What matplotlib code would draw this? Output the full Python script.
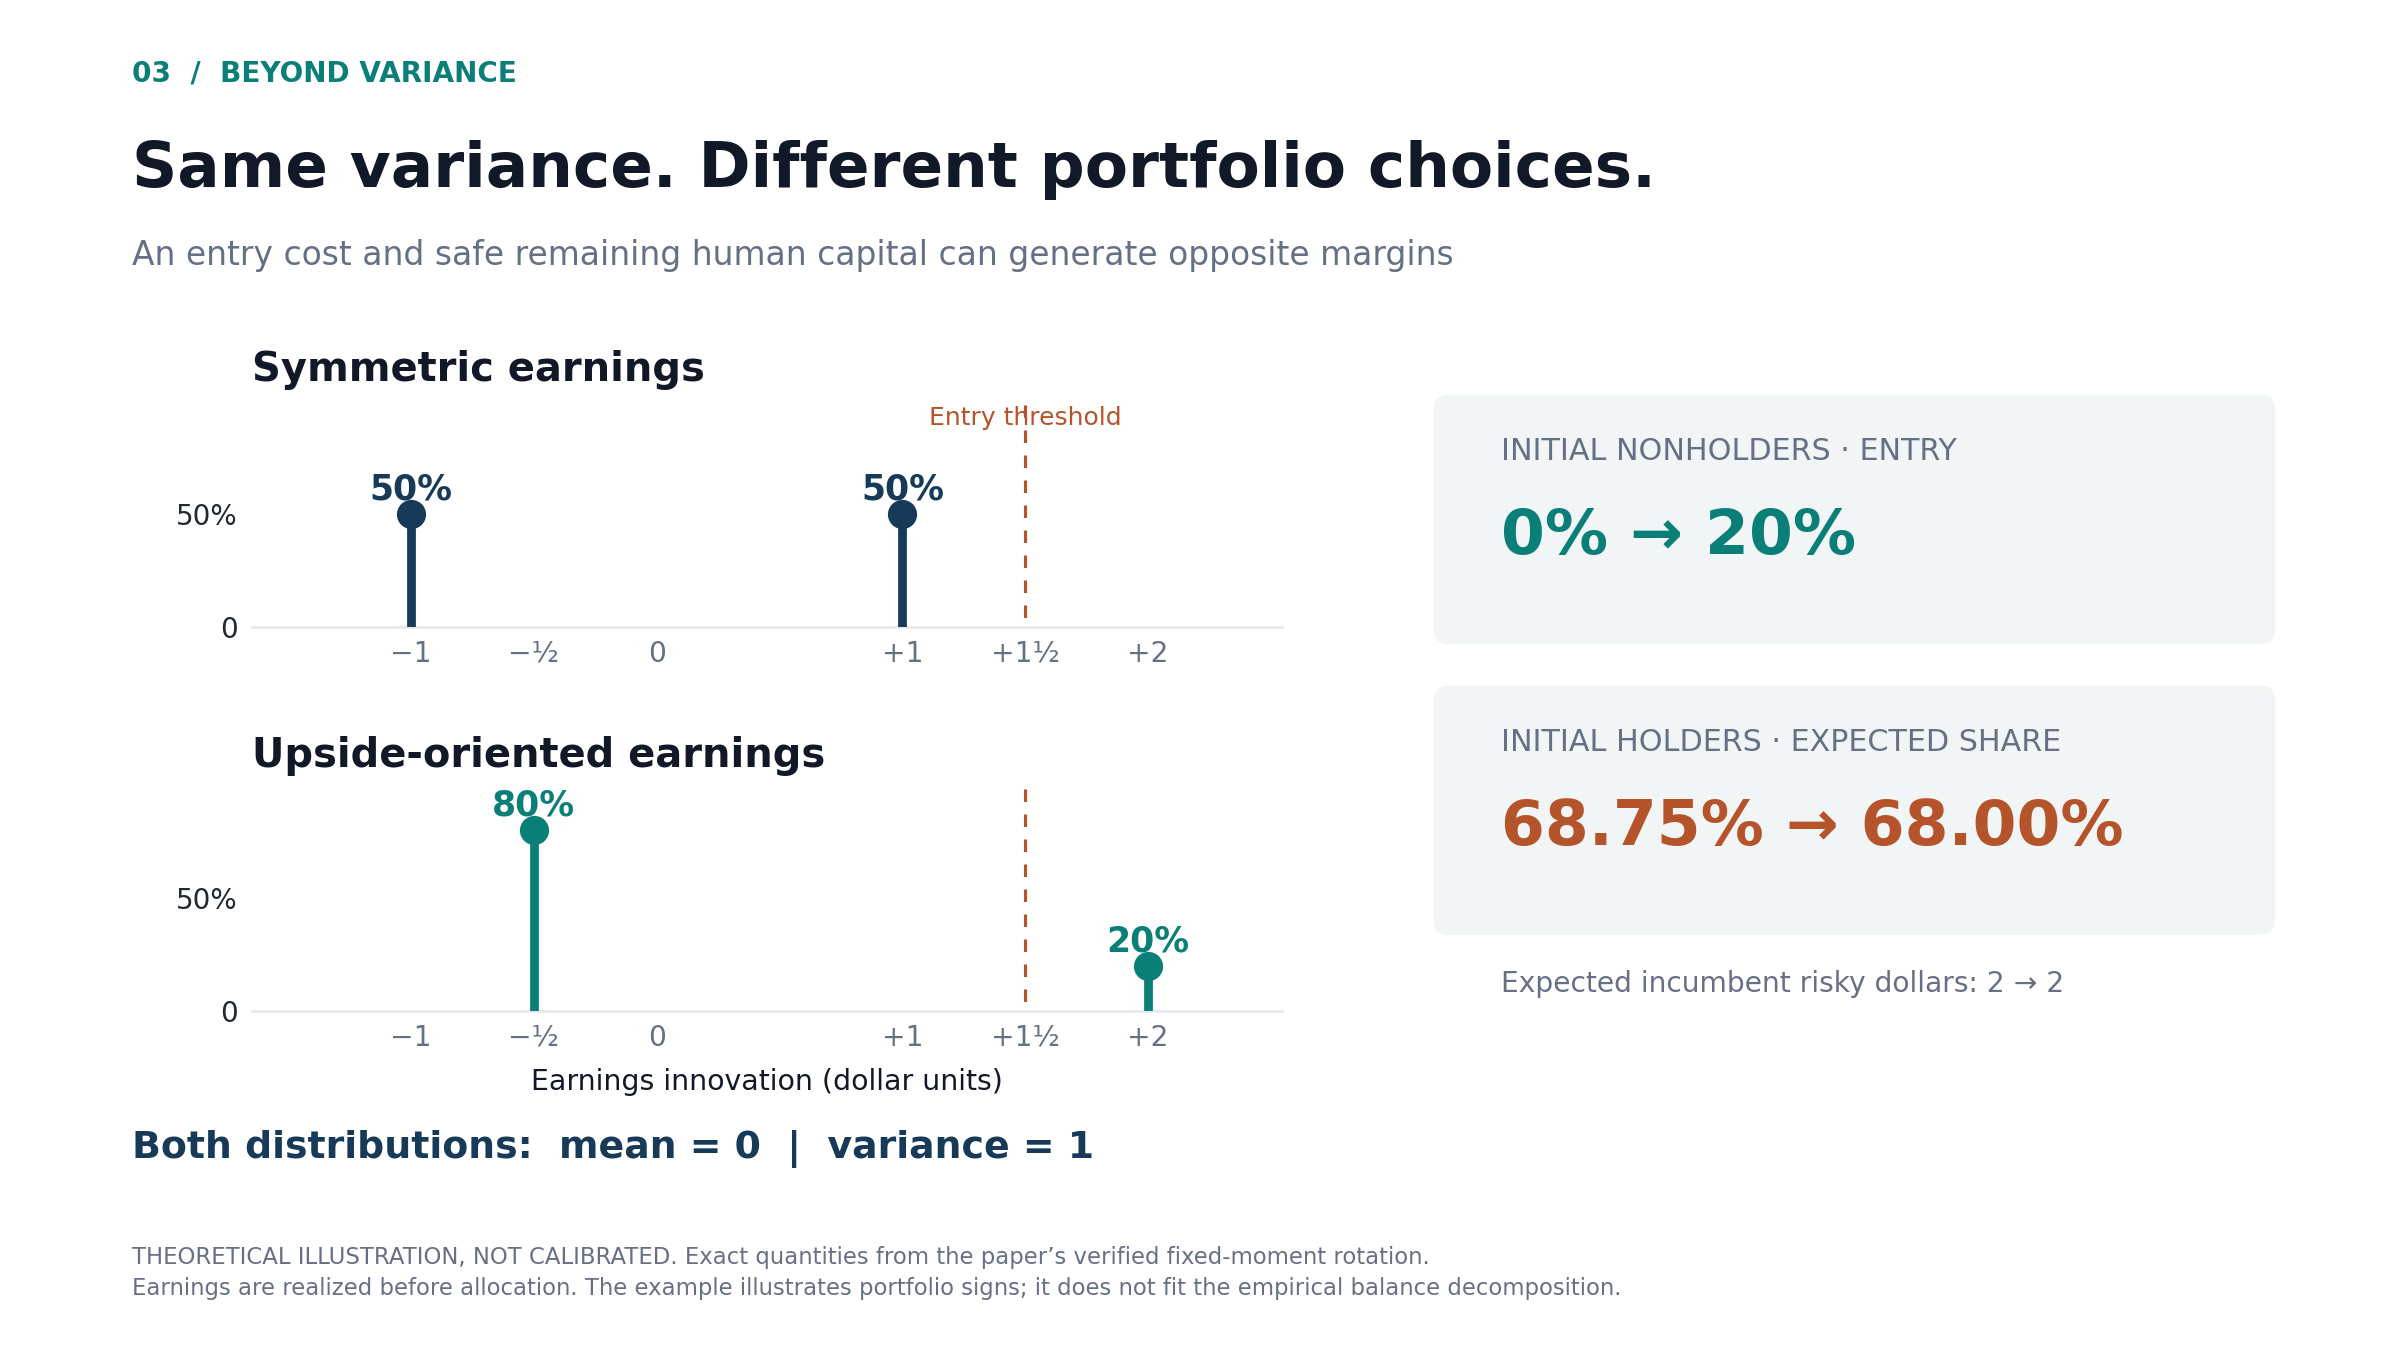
import matplotlib
matplotlib.use("Agg")
import matplotlib.pyplot as plt
from matplotlib.patches import FancyBboxPatch

# colours
TEAL = "#0a7f78"
NAVY = "#163a57"
RUST = "#b5532a"
INK = "#111827"
GRAY = "#667085"
CARD = "#f2f5f6"

# data
tick_pos = [-1, -0.5, 0, 1, 1.5, 2]
tick_labels = ["\u22121", "\u2212\u00bd", "0", "+1", "+1\u00bd", "+2"]
threshold = 1.5

sym_x = [-1, 1]
sym_p = [0.5, 0.5]
up_x = [-0.5, 2]
up_p = [0.8, 0.2]

card_labels = ["INITIAL NONHOLDERS \u00b7 ENTRY", "INITIAL HOLDERS \u00b7 EXPECTED SHARE"]
card_values = ["0% \u2192 20%", "68.75% \u2192 68.00%"]
card_colors = [TEAL, RUST]

plt.rcParams['font.family'] = ['DejaVu Sans']

FW, FH = 15.994, 9
fig = plt.figure(figsize=(FW, FH), dpi=150)
fig.patch.set_facecolor("white")

W = 1568.0  # layout measured on a 1568 wide grid
H = W * 1350 / 2399


def fx(x):
    return x / W


def fy(y):
    return 1 - y / H


def stem_panel(ax, xs, ps, color, show_xlabel=False):
    ax.vlines(xs, 0, ps, color=color, lw=4.2, zorder=3)
    ax.plot(xs, ps, "o", color=color, ms=13, zorder=4)
    for x, p in zip(xs, ps):
        ax.annotate(f"{p:.0%}", (x, p), xytext=(0, 12), textcoords="offset points",
                    ha="center", va="center", fontsize=16.7, fontweight="bold", color=color)
    ax.plot([threshold, threshold], [0.98, 0], color=RUST, lw=1.5, ls=(0, (4, 4)), zorder=2)
    ax.set_xlim(-1.645, 2.545)
    ax.set_ylim(0, 0.98)
    ax.set_xticks(tick_pos)
    ax.set_xticklabels(tick_labels)
    ax.set_yticks([0, 0.5])
    ax.set_yticklabels(["0", "50%"])
    ax.tick_params(axis="x", length=0, pad=6, labelsize=13.5, labelcolor=GRAY)
    ax.tick_params(axis="y", length=0, pad=7, labelsize=13.3, labelcolor="#1f2937")
    for s in ["top", "right", "left"]:
        ax.spines[s].set_visible(False)
    ax.spines["bottom"].set_color("#e5e7eb")
    ax.spines["bottom"].set_linewidth(1.2)
    ax.set_facecolor("none")
    if show_xlabel:
        ax.set_xlabel("Earnings innovation (dollar units)", fontsize=13.6, color=INK, labelpad=8)


ax1 = fig.add_axes([fx(165), fy(410), fx(838) - fx(165), fy(265) - fy(410)])
stem_panel(ax1, sym_x, sym_p, NAVY)
ax1.text(threshold, 0.925, "Entry threshold", ha="center", va="center",
         fontsize=12, color=RUST)

ax2 = fig.add_axes([fx(165), fy(661), fx(838) - fx(165), fy(516) - fy(661)])
stem_panel(ax2, up_x, up_p, TEAL, show_xlabel=True)

# header
fig.text(fx(86), fy(48), "03  /  BEYOND VARIANCE", fontsize=13.4, fontweight="bold",
         color=TEAL, va="center")
fig.text(fx(86), fy(111), "Same variance. Different portfolio choices.", fontsize=30.2,
         fontweight="bold", color=INK, va="center")
fig.text(fx(86), fy(167), "An entry cost and safe remaining human capital can generate opposite margins",
         fontsize=15.8, color=GRAY, va="center")

fig.text(fx(165), fy(242), "Symmetric earnings", fontsize=19.2, fontweight="bold", color=INK, va="center")
fig.text(fx(165), fy(494), "Upside-oriented earnings", fontsize=19.2, fontweight="bold", color=INK, va="center")

fig.text(fx(86), fy(751), "Both distributions:  mean = 0  |  variance = 1", fontsize=18.2,
         fontweight="bold", color=NAVY, va="center")

fig.text(fx(86), fy(822), "THEORETICAL ILLUSTRATION, NOT CALIBRATED. Exact quantities from the paper\u2019s verified fixed-moment rotation.",
         fontsize=10.95, color=GRAY, va="center")
fig.text(fx(86), fy(842), "Earnings are realized before allocation. The example illustrates portfolio signs; it does not fit the empirical balance decomposition.",
         fontsize=10.95, color=GRAY, va="center")

# cards on the right
card_tops = [258, 448]
card_h = 163
for top, lab, val, col in zip(card_tops, card_labels, card_values, card_colors):
    x0, y0 = fx(937) * FW, fy(top + card_h) * FH
    w, h = (fx(1487) - fx(937)) * FW, card_h / H * FH
    box = FancyBboxPatch((x0, y0), w, h, boxstyle="round,pad=0,rounding_size=0.1",
                         transform=fig.dpi_scale_trans, facecolor=CARD, edgecolor="none")
    fig.patches.append(box)
    fig.text(fx(981), fy(top + 37), lab, fontsize=14.45, color=GRAY, va="center")
    fig.text(fx(981), fy(top + 93), val, fontsize=30.3, fontweight="bold", color=col, va="center")

fig.text(fx(981), fy(643), "Expected incumbent risky dollars: 2 \u2192 2", fontsize=13.5,
         color=GRAY, va="center")

fig.savefig("out.png", dpi=150, facecolor="white")
